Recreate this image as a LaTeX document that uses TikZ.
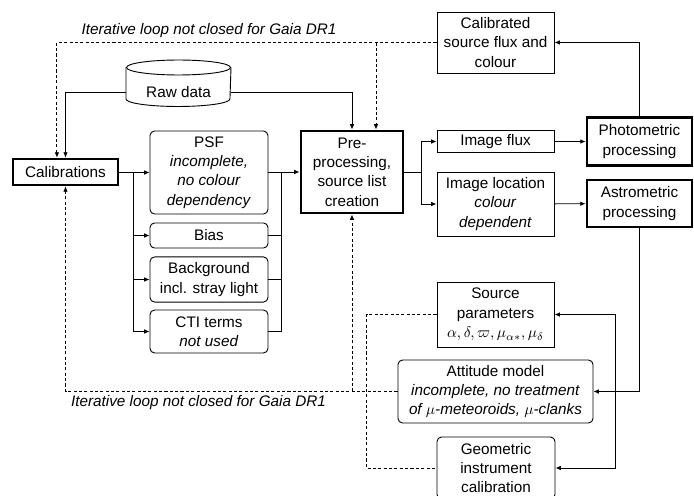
\documentclass[tikz,border=0pt]{standalone}
\usepackage{amsmath}
\usepackage{amssymb}
\usepackage{fontspec}
\setmainfont{Liberation Sans}
\usetikzlibrary{arrows.meta}

\begin{document}
\begin{tikzpicture}[x=0.023cm, y=-0.023cm,
        box/.style={draw, line width=0.6pt, align=center, inner sep=1pt,
            font=\fontsize{10}{12.7}\selectfont},
        roundbox/.style={box, rounded corners=3pt},
        mainbox/.style={box, line width=1.8pt},
        plainline/.style={line width=0.6pt},
        arrowline/.style={plainline, -{Latex[length=3.5pt,width=3pt]}},
        dashline/.style={plainline, dash pattern=on 2pt off 1.5pt},
        dasharrow/.style={arrowline, dash pattern=on 2pt off 1.5pt}]
        % Fix the size of the picture
        \useasboundingbox (0,0) rectangle (694,495);

        % Draw the main processing steps
        \node[mainbox, minimum width=68.7pt, minimum height=17pt] (calib) at (65.5,172) {Calibrations};
        \node[mainbox, minimum width=66.8pt, minimum height=53.7pt] (pre) at (352,172) {Pre-\\processing,\\source list\\creation};
        \node[mainbox, minimum width=68.7pt, minimum height=31.4pt] (photo) at (639.5,141.5) {Photometric\\processing};
        \node[mainbox, minimum width=68.7pt, minimum height=30.8pt] (astro) at (639.5,203.5) {Astrometric\\processing};

        % Draw the raw data store
        \node[font=\fontsize{10}{12.7}\selectfont, minimum width=68pt, inner sep=0pt] (raw) at (178.5,92) {Raw data};
        \draw[plainline] (178.5,67.5) ellipse [x radius=34pt, y radius=4.9pt];
        \draw[plainline] (126,67.5) -- (126,99)
            arc [start angle=180, end angle=360, x radius=34pt, y radius=4.9pt] -- (231,67.5);

        % Draw the calibration items
        \node[roundbox, minimum width=77.2pt, minimum height=54.3pt] (psf) at (209,172.5) {PSF\\\textit{incomplete,}\\\textit{no colour}\\\textit{dependency}};
        \node[roundbox, minimum width=77.2pt, minimum height=16.4pt] (bias) at (209,235.5) {Bias};
        \node[roundbox, minimum width=77.2pt, minimum height=29.5pt] (bkg) at (209,279.5) {Background\\incl. stray light};
        \node[roundbox, minimum width=77.2pt, minimum height=28.1pt] (cti) at (209,331.5) {CTI terms\\\textit{not used}};

        % Draw the outputs
        \node[box, minimum width=76.6pt, minimum height=39.9pt] (flux) at (495.5,42.5) {Calibrated\\source flux and\\colour};
        \node[box, minimum width=76.6pt, minimum height=14.4pt] (imflux) at (495.5,141.5) {Image flux};
        \node[box, minimum width=76.6pt, minimum height=41.9pt] (imloc) at (495.5,204) {Image location\\\textit{colour}\\\textit{dependent}};
        \node[box, minimum width=76.6pt, minimum height=42.5pt] (srcpar) at (495.5,314.5) {Source\\parameters\\$\alpha, \delta, \varpi, \mu_{\alpha*}, \mu_\delta$};
        \node[roundbox, minimum width=127.6pt, minimum height=41.2pt] (att) at (495.5,391.5) {Attitude model\\\textit{incomplete, no treatment}\\\textit{of $\mu$-meteoroids, $\mu$-clanks}};
        \node[roundbox, minimum width=77.2pt, minimum height=40.6pt] (geom) at (496,468) {Geometric\\instrument\\calibration};

        % Label the loops
        \node[font=\fontsize{10}{12}\selectfont\itshape] (looptop) at (209,30.5) {Iterative loop not closed for Gaia DR1};
        \node[font=\fontsize{10}{12}\selectfont\itshape] (loopbot) at (198.5,403) {Iterative loop not closed for Gaia DR1};

        % Define the branch points
        \coordinate (csplit) at (133,172);
        \coordinate (cmerge) at (281,172);
        \coordinate (psplit) at (421,172);
        \coordinate (topsplit) at (376,42.5);
        \coordinate (asplit) at (615,391.5);
        \coordinate (calibin) at ([xshift=-5.6pt]calib.north);

        % Draw the raw data input
        \draw[arrowline] (raw.west) -| (calib.north);
        \draw[arrowline] (raw.east) -| (pre.north);

        % Draw the calibration fan
        \draw[plainline] (calib.east) -- (csplit) -- (csplit |- cti.west);
        \foreach \item in {psf,bias,bkg,cti}
            \draw[arrowline] (csplit |- \item.west) -- (\item.west);
        \foreach \item in {psf,bias,bkg,cti}
            \draw[plainline] (\item.east) -- (cmerge |- \item.east);
        \draw[plainline] (cmerge) -- (cmerge |- cti.east);
        \draw[arrowline] (cmerge) -- (pre.west);

        % Draw the image outputs
        \draw[plainline] (pre.east) -- (psplit);
        \draw[arrowline] (psplit) |- (imflux.west);
        \draw[arrowline] (psplit) |- (imloc.west);
        \draw[arrowline] (imflux) -- (photo);
        \draw[arrowline] (imloc) -- (astro);

        % Draw the processing results
        \draw[arrowline] (photo.north) |- (flux.east);
        \draw[arrowline] (astro.south) |- (att.east);
        \draw[arrowline] (asplit) |- (srcpar.east);
        \draw[arrowline] (asplit) |- (geom.east);

        % Draw the open loops
        \draw[dasharrow] (flux.west) -| (calibin);
        \draw[dasharrow] (topsplit) -- (topsplit |- pre.north);
        \draw[dasharrow] (att.west) -| (calib.south);
        \draw[dasharrow] (pre.south |- att.west) -- (pre.south);
        \draw[dashline] (srcpar.west) -- ++(-70,0) |- (geom.west);
\end{tikzpicture}
\end{document}
